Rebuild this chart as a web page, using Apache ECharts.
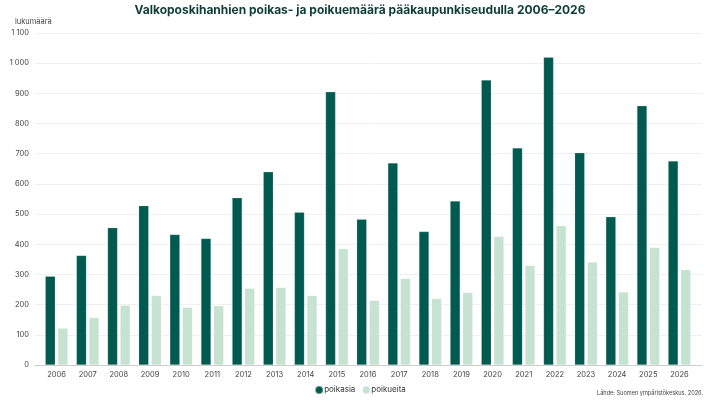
<!DOCTYPE html>
<html><head><meta charset="utf-8">
<script src="https://cdn.jsdelivr.net/npm/echarts@6/dist/echarts.min.js"></script>
<style>html,body{margin:0;padding:0;background:#fff}#c{width:720px;height:402px}</style>
</head><body><div id="c"></div>
<script>
var years = ['2006','2007','2008','2009','2010','2011','2012','2013','2014','2015','2016','2017','2018','2019','2020','2021','2022','2023','2024','2025','2026'];
var poikasia = [294,363,455,528,432,419,554,640,506,905,483,669,442,543,944,719,1020,703,491,859,676];
var poikueita = [122,157,198,230,191,196,254,257,230,385,214,287,220,240,426,330,461,341,242,389,316];
var yTicks = [0,100,200,300,400,500,600,700,800,900,1000,1100];

var FONT = 'Inter, "Noto Sans", sans-serif';
var chart = echarts.init(document.getElementById('c'));
chart.setOption({
  animation: false,
  title: {
    text: 'Valkoposkihanhien poikas- ja poikuemäärä pääkaupunkiseudulla 2006–2026',
    left: 'center', top: -1,
    textStyle: {fontFamily: FONT, fontSize: 12, fontWeight: 'bold', color: '#0d3d33'}
  },
  graphic: [
    {type: 'text', left: 15, top: 18,
     style: {text: 'lukumäärä', font: '7.5px ' + FONT, fill: '#444'}},
    {type: 'text', right: 17, top: 390,
     style: {text: 'Lähde: Suomen ympäristökeskus. 2026.', font: '5.6px ' + FONT, fill: '#444'}}
  ],
  legend: {
    top: 380, left: 'center', icon: 'circle', itemWidth: 8, itemHeight: 8, itemGap: 6,
    textStyle: {fontFamily: FONT, fontSize: 8, color: '#333', padding: [0,0,0,-4]},
    data: ['poikasia','poikueita']
  },
  grid: [
    {left: 35, right: 18, top: 33, bottom: 37},
    {left: 41, right: 25, top: 33, bottom: 37}
  ],
  xAxis: [
    {type: 'category', gridIndex: 0, data: [''],
     axisLine: {lineStyle: {color: '#ccc'}}, axisTick: {show: false}, axisLabel: {show: false}},
    {type: 'category', gridIndex: 1, data: years,
     axisLine: {show: false}, axisTick: {show: false},
     axisLabel: {fontFamily: FONT, fontSize: 7.5, color: '#444', margin: 6}}
  ],
  yAxis: [
    {type: 'value', gridIndex: 0, min: 0, max: 1100, interval: 100,
     splitLine: {lineStyle: {color: '#f0f0f0'}},
     axisLabel: {fontFamily: FONT, fontSize: 7.5, color: '#444', margin: 6,
       formatter: function(v){ return yTicks.indexOf(v) >= 0 ? String(v).replace(/\B(?=(\d{3})+(?!\d))/g, ' ') : ''; }}},
    {type: 'value', gridIndex: 1, min: 0, max: 1100, interval: 100,
     show: false, splitLine: {show: false}}
  ],
  series: [
    {name: 'poikasia', type: 'bar', xAxisIndex: 1, yAxisIndex: 1, data: poikasia, barWidth: 10, barGap: '26%',
     itemStyle: {color: '#005a4f', borderColor: 'rgba(255,255,255,0.35)', borderWidth: 0.5}},
    {name: 'poikueita', type: 'bar', xAxisIndex: 1, yAxisIndex: 1, data: poikueita, barWidth: 10,
     itemStyle: {color: '#c6e2d0', borderColor: 'rgba(255,255,255,0.35)', borderWidth: 0.5}}
  ]
});
</script></body></html>
